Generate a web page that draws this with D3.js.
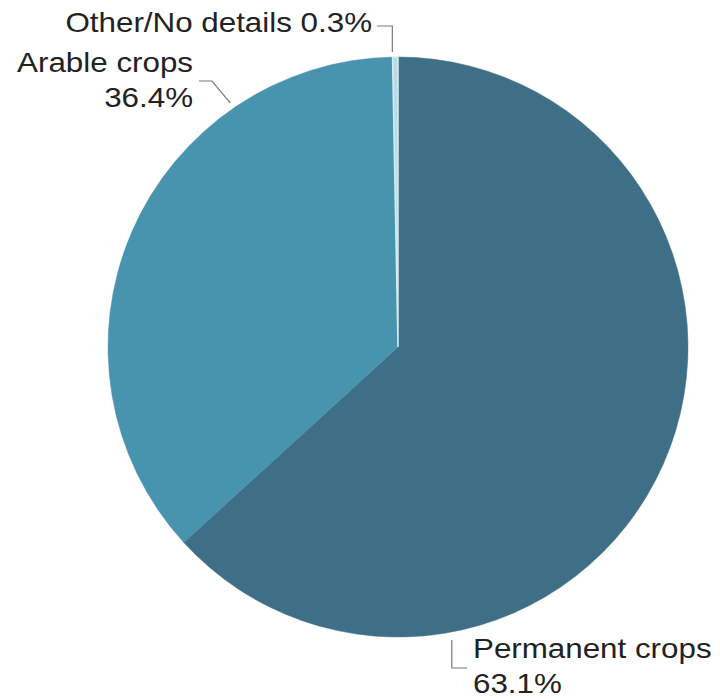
<!DOCTYPE html>
<html>
<head>
<meta charset="utf-8">
<script src="https://cdn.jsdelivr.net/npm/d3@7/dist/d3.min.js"></script>
<style>
  html, body { margin: 0; padding: 0; background: #ffffff; }
  svg { display: block; }
  text { font-family: "Liberation Sans", Arial, sans-serif; fill: #222222; }
</style>
</head>
<body>
<svg id="chart" width="720" height="699"></svg>
<script>
// Utilised agricultural area by type of crop (shares, %)
const categories = ["Permanent crops", "Arable crops", "Other/No details"];
const shares = [63.1, 36.4, 0.3];
const sliceColors = ["#3e6f87", "#4893ad", "#b8dbe6"];

const W = 720, H = 699;
const cx = 398, cy = 347, radius = 290;
const fontSize = 27.5, stretch = 1.14;

const svg = d3.select("#chart");
const g = svg.append("g").attr("transform", `translate(${cx},${cy})`);

const pie = d3.pie().sort(null).value(d => d.value);
const arcs = pie(categories.map((c, i) => ({ name: c, value: shares[i], color: sliceColors[i] })));
const arc = d3.arc().innerRadius(0).outerRadius(radius);

g.selectAll("path.slice")
  .data(arcs)
  .join("path")
  .attr("class", "slice")
  .attr("d", arc)
  .attr("fill", d => d.data.color)
  .attr("stroke", d => d.index === arcs.length - 1 ? "#d6ebf1" : d.data.color)
  .attr("stroke-width", d => d.index === arcs.length - 1 ? 1.5 : 0.5);

// keep the thin slice drawn above its neighbours
g.selectAll("path.slice").filter(d => d.index === arcs.length - 1).raise();

// point just outside the rim at a clockwise-from-top angle (degrees)
function rimPoint(deg, off) {
  const a = deg * Math.PI / 180;
  return [cx + (radius + off) * Math.sin(a), cy - (radius + off) * Math.cos(a)];
}

const fmt = v => v.toFixed(1) + "%";

// label layout: anchor point, alignment, lines, leader geometry
const labelLayout = [
  { // Permanent crops
    x: 473, y: 658, anchor: "start", lineGap: 35,
    lines: d => [d.name, fmt(d.value)],
    leader: () => { const e = rimPoint(169.6, 8); return [e, [e[0], 668], [467, 668]]; }
  },
  { // Arable crops
    x: 193, y: 72, anchor: "end", lineGap: 35,
    lines: d => [d.name, fmt(d.value)],
    leader: () => { const e = rimPoint(325.5, 6); return [[199, 81], [212, 81], e]; }
  },
  { // Other/No details
    x: 372, y: 32, anchor: "end", lineGap: 0,
    lines: d => [d.name + " " + fmt(d.value)],
    leader: () => { const e = rimPoint(358.9, 5); return [[377, 26], [e[0], 26], e]; }
  }
];

const line = d3.line();
arcs.forEach((d, i) => {
  const L = labelLayout[i];
  svg.append("path")
    .attr("d", line(L.leader()))
    .attr("fill", "none")
    .attr("stroke", "#7a7a7a")
    .attr("stroke-width", 1.2);

  const t = svg.append("g")
    .attr("transform", `translate(${L.x},${L.y}) scale(${stretch},1)`);
  L.lines(d.data).forEach((s, k) => {
    t.append("text")
      .attr("x", 0)
      .attr("y", k * L.lineGap)
      .attr("text-anchor", L.anchor)
      .attr("font-size", fontSize)
      .text(s);
  });
});
</script>
</body>
</html>
